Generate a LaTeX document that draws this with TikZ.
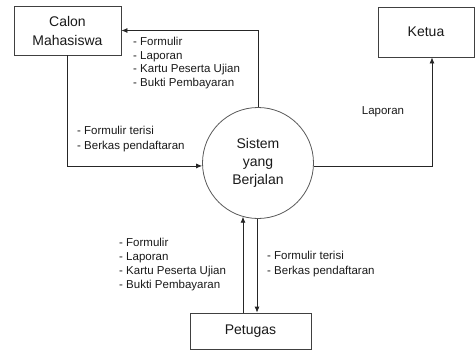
\documentclass[tikz,border=0pt]{standalone}
\usepackage{fontspec}
\setmainfont{Liberation Sans}
\usetikzlibrary{arrows.meta,shapes.geometric}
\begin{document}
\begin{tikzpicture}[x=1pt,y=-1pt,
  entity/.style={draw=black!75,line width=0.8pt,rectangle,inner sep=0pt,align=center,
    font=\fontsize{14}{19}\selectfont,text=black!90},
  proc/.style={draw=black!65,line width=0.8pt,circle,minimum size=111pt,inner sep=0pt,align=center,
    font=\fontsize{14}{18}\selectfont,text=black!90},
  flow/.style={line width=0.8pt,draw=black!85,-{Latex[length=6pt,width=5pt]}},
  lbl/.style={anchor=west,align=left,inner sep=0pt,text=black!90}
]
\path[use as bounding box] (0,0) rectangle (475,351);

\node[entity,minimum width=107pt,minimum height=49pt] (calon) at (67.5,30.5) {Calon\\Mahasiswa};
\node[entity,minimum width=96pt,minimum height=50pt] (ketua) at (426,32) {Ketua};
\node[entity,minimum width=121pt,minimum height=36pt] (pet) at (250.5,331) {Petugas};
\node[proc] (sys) at (258,163) {Sistem\\yang\\Berjalan};

% flows
\draw[flow] (sys.north) |- (calon.east);
\draw[flow] (calon.south) |- (sys.183);
\draw[flow] (sys.-3) -| ([xshift=6pt]ketua.south);
\draw[flow] ([xshift=-7.5pt]pet.north) -- ([xshift=-7.5pt]pet.north |- sys.254);
\draw[flow] (sys.269) -- (sys.269 |- pet.north);

% labels
\node[lbl,font=\fontsize{11.5}{13.4}\selectfont] (l1) at (133,63)
  {- Formulir\\- Laporan\\- Kartu Peserta Ujian\\- Bukti Pembayaran};
\node[lbl,font=\fontsize{11.5}{15}\selectfont] (l2) at (77,139.5)
  {- Formulir terisi\\- Berkas pendaftaran};
\node[lbl,font=\fontsize{11.5}{13.7}\selectfont] (l3) at (119,264.5)
  {- Formulir\\- Laporan\\- Kartu Peserta Ujian\\- Bukti Pembayaran};
\node[lbl,font=\fontsize{11.5}{15}\selectfont] (l4) at (267,264.5)
  {- Formulir terisi\\- Berkas pendaftaran};
\node[font=\fontsize{11.5}{13}\selectfont,text=black!90,inner sep=0pt] (l5) at (383,112) {Laporan};
\end{tikzpicture}
\end{document}
